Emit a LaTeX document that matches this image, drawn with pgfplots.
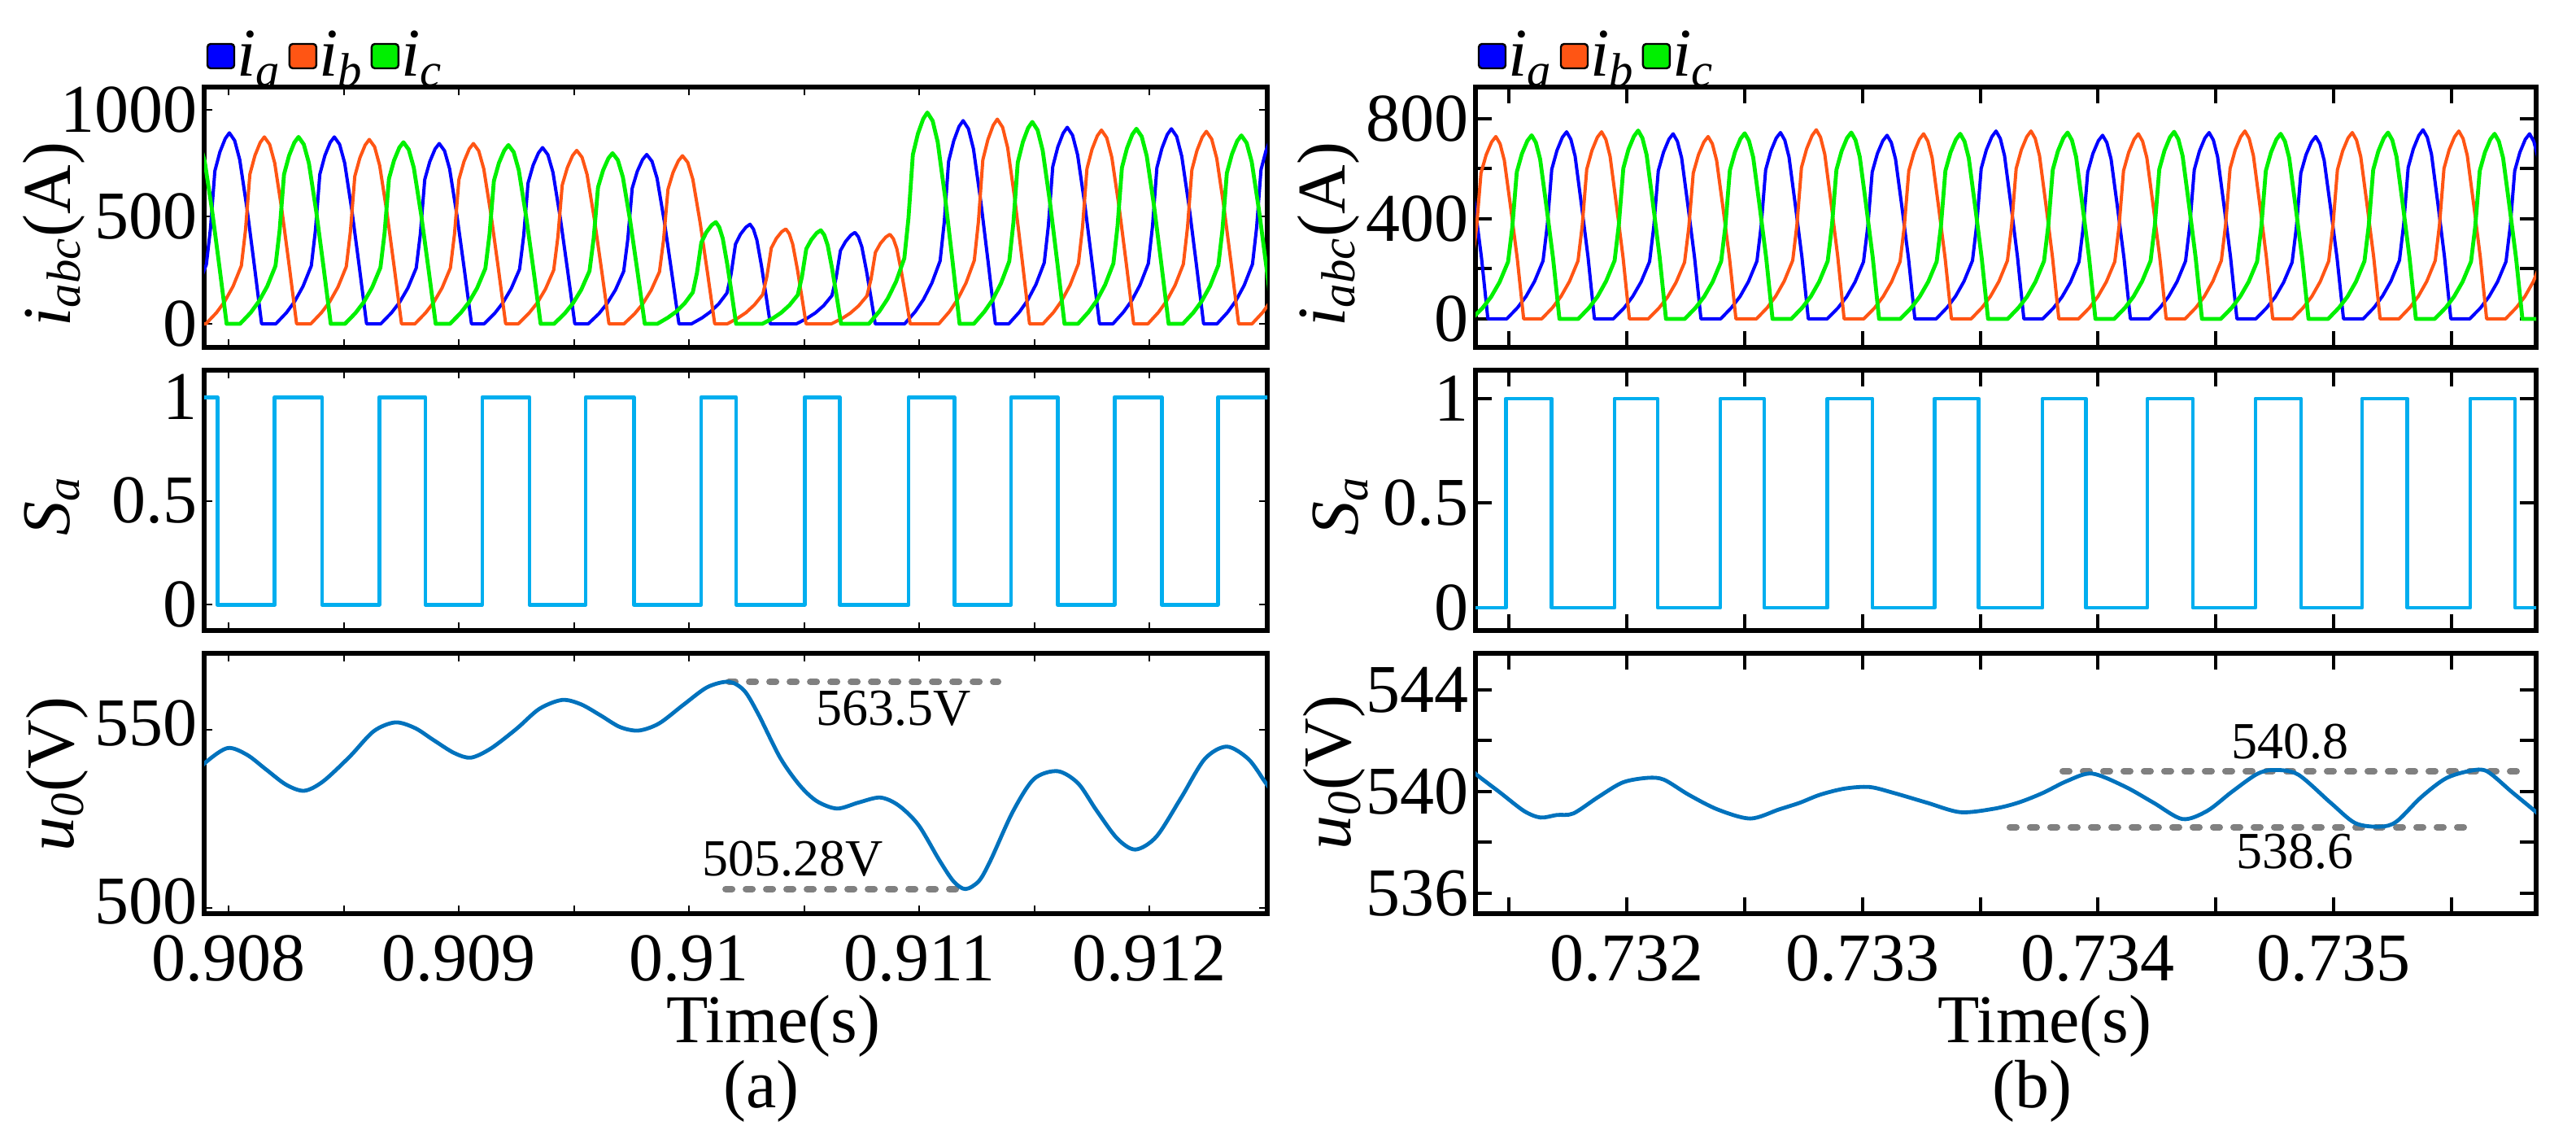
\documentclass[border=0pt]{standalone}
\usepackage{fontspec}
\setmainfont{Liberation Serif}
\usepackage{pgfplots}
\pgfplotsset{compat=1.18}
\definecolor{cA}{RGB}{0,0,255}
\definecolor{cB}{RGB}{255,85,20}
\definecolor{cC}{RGB}{0,240,0}
\definecolor{cS}{RGB}{0,174,239}
\definecolor{cU}{RGB}{0,114,189}
\definecolor{cD}{RGB}{128,128,128}
\newcommand{\fs}{\fontsize{21pt}{21pt}\selectfont}
\newcommand{\fa}{\fontsize{16pt}{16pt}\selectfont}
\newcommand{\tr}[1]{\textrm{#1}}
\pgfplotsset{
 base/.style={scale only axis, anchor=north west, axis line style={line width=1.5pt},
   tick align=inside, xtick pos=both, ytick pos=both, ticklabel style={font=\fs},
   yticklabel style={inner sep=0pt, xshift=-2pt}, xticklabel style={inner sep=0pt, yshift=-6.5pt},
   tick style={black, line width=0.5pt}, major tick length=2.5pt,
   legend image code/.code={\filldraw[#1, draw=black, line width=0.6pt, rounded corners=1pt] (0pt,-3.75pt) rectangle (8.25pt,3.75pt);},
   legend style={at={(0,1)}, anchor=south west, xshift=0.5pt, yshift=1pt, draw=none, fill=none, inner sep=0pt, font=\fs, legend columns=-1, nodes={inner sep=0.6pt}, /tikz/every even column/.append style={column sep=1.5pt}}},
 pa/.style={base, width=326.75pt, height=80pt, xmin=0.907894, xmax=0.912512,
   xtick={0.908,0.9085,0.909,0.9095,0.91,0.9105,0.911,0.9115,0.912}, xticklabels={}},
 pb/.style={base, width=326pt, height=80pt, xmin=0.731358, xmax=0.735859,
   xtick={0.7315,0.732,0.7325,0.733,0.7335,0.734,0.7345,0.735,0.7355}, xticklabels={},
   major tick length=5pt, tick style={black, line width=1pt}},
 cur/.style={line width=1pt, line join=round},
 dots/.style={cD, line width=2pt, line cap=round, dash pattern=on 2pt off 4.25pt},
}
\begin{document}
\begin{tikzpicture}
\useasboundingbox (0,0) rectangle (791.75pt,350pt);
% ---------------- (a) currents
\begin{axis}[pa, at={(62.75pt,323.25pt)}, ymin=-110, ymax=1106, ytick={0,500,1000}, yticklabels={\tr{0},\tr{500},\tr{1000}}]
\addplot[cA, cur] coordinates {
(0.9077495,0)(0.9077955,54)(0.9078315,107)(0.9078675,178)(0.9079035,277)(0.9079215,446)(0.9079405,714)(0.9079625,803)(0.9079855,865)(0.9080035,892)(0.9080265,856)(0.9080485,767)(0.9080805,535)(0.9081125,268)(0.9081435,0)
(0.9082054,0)(0.9082514,52)(0.9082874,105)(0.9083234,175)(0.9083594,271)(0.9083774,437)(0.9083964,698)(0.9084184,786)(0.9084414,847)(0.9084594,873)(0.9084824,838)(0.9085044,751)(0.9085364,524)(0.9085684,262)(0.9085994,0)
(0.9086612,0)(0.9087072,51)(0.9087432,101)(0.9087792,168)(0.9088152,261)(0.9088332,421)(0.9088522,674)(0.9088742,758)(0.9088972,817)(0.9089152,842)(0.9089382,808)(0.9089602,724)(0.9089922,505)(0.9090242,253)(0.9090552,0)
(0.9091100,0)(0.9091560,49)(0.9091920,99)(0.9092280,165)(0.9092640,255)(0.9092820,412)(0.9093010,658)(0.9093230,741)(0.9093460,798)(0.9093640,823)(0.9093870,790)(0.9094090,708)(0.9094410,494)(0.9094730,247)(0.9095040,0)
(0.9095623,0)(0.9096083,47)(0.9096443,95)(0.9096803,158)(0.9097163,245)(0.9097343,396)(0.9097533,633)(0.9097753,712)(0.9097983,767)(0.9098163,791)(0.9098393,759)(0.9098613,680)(0.9098933,475)(0.9099253,237)(0.9099563,0)
(0.9100110,0)(0.9100570,28)(0.9100930,56)(0.9101290,93)(0.9101650,144)(0.9101830,233)(0.9102020,372)(0.9102240,419)(0.9102470,451)(0.9102650,465)(0.9102800,442)(0.9102950,391)(0.9103150,270)(0.9103350,130)(0.9103530,0)
(0.9104669,0)(0.9105129,26)(0.9105489,51)(0.9105849,85)(0.9106209,132)(0.9106389,214)(0.9106579,342)(0.9106799,384)(0.9107029,414)(0.9107209,427)(0.9107359,406)(0.9107509,359)(0.9107709,248)(0.9107909,120)(0.9108089,0)
(0.9109368,0)(0.9109828,57)(0.9110188,114)(0.9110548,190)(0.9110908,294)(0.9111088,475)(0.9111278,759)(0.9111498,854)(0.9111728,921)(0.9111908,949)(0.9112138,911)(0.9112358,816)(0.9112678,569)(0.9112998,285)(0.9113308,0)
(0.9113891,0)(0.9114351,55)(0.9114711,110)(0.9115071,184)(0.9115431,285)(0.9115611,459)(0.9115801,734)(0.9116021,826)(0.9116251,890)(0.9116431,918)(0.9116661,881)(0.9116881,789)(0.9117201,551)(0.9117521,275)(0.9117831,0)
(0.9118414,0)(0.9118874,55)(0.9119234,109)(0.9119594,182)(0.9119954,282)(0.9120134,456)(0.9120324,729)(0.9120544,820)(0.9120774,884)(0.9120954,911)(0.9121184,875)(0.9121404,783)(0.9121724,547)(0.9122044,273)(0.9122354,0)
(0.9122937,0)(0.9123397,54)(0.9123757,108)(0.9124117,180)(0.9124477,279)(0.9124657,450)(0.9124847,720)(0.9125067,810)(0.9125297,873)(0.9125477,900)
};
\addplot[cB, cur] coordinates {
(0.9078400,0)
(0.9079015,0)(0.9079475,52)(0.9079835,105)(0.9080195,175)(0.9080555,271)(0.9080735,437)(0.9080925,698)(0.9081145,786)(0.9081375,847)(0.9081555,873)(0.9081785,838)(0.9082005,751)(0.9082325,524)(0.9082645,262)(0.9082955,0)
(0.9083573,0)(0.9084033,52)(0.9084393,103)(0.9084753,172)(0.9085113,267)(0.9085293,431)(0.9085483,689)(0.9085703,775)(0.9085933,835)(0.9086113,861)(0.9086343,827)(0.9086563,740)(0.9086883,517)(0.9087203,258)(0.9087513,0)
(0.9088096,0)(0.9088556,51)(0.9088916,101)(0.9089276,168)(0.9089636,261)(0.9089816,421)(0.9090006,674)(0.9090226,758)(0.9090456,817)(0.9090636,842)(0.9090866,808)(0.9091086,724)(0.9091406,505)(0.9091726,253)(0.9092036,0)
(0.9092584,0)(0.9093044,49)(0.9093404,97)(0.9093764,162)(0.9094124,251)(0.9094304,405)(0.9094494,648)(0.9094714,729)(0.9094944,786)(0.9095124,810)(0.9095354,778)(0.9095574,697)(0.9095894,486)(0.9096214,243)(0.9096524,0)
(0.9097177,0)(0.9097637,47)(0.9097997,94)(0.9098357,157)(0.9098717,243)(0.9098897,393)(0.9099087,628)(0.9099307,707)(0.9099537,761)(0.9099717,785)(0.9099947,754)(0.9100167,675)(0.9100487,471)(0.9100807,236)(0.9101117,0)
(0.9101665,0)(0.9102125,27)(0.9102485,53)(0.9102845,89)(0.9103205,137)(0.9103385,222)(0.9103575,354)(0.9103795,399)(0.9104025,430)(0.9104205,443)(0.9104355,421)(0.9104505,372)(0.9104705,257)(0.9104905,124)(0.9105085,0)
(0.9106188,0)(0.9106648,25)(0.9107008,50)(0.9107368,84)(0.9107728,130)(0.9107908,209)(0.9108098,334)(0.9108318,376)(0.9108548,405)(0.9108728,418)(0.9108878,397)(0.9109028,351)(0.9109228,242)(0.9109428,117)(0.9109608,0)
(0.9110853,0)(0.9111313,57)(0.9111673,115)(0.9112033,191)(0.9112393,296)(0.9112573,478)(0.9112763,765)(0.9112983,860)(0.9113213,927)(0.9113393,956)(0.9113623,918)(0.9113843,822)(0.9114163,574)(0.9114483,287)(0.9114793,0)
(0.9115376,0)(0.9115836,54)(0.9116196,109)(0.9116556,181)(0.9116916,281)(0.9117096,453)(0.9117286,724)(0.9117506,815)(0.9117736,878)(0.9117916,905)(0.9118146,869)(0.9118366,778)(0.9118686,543)(0.9119006,272)(0.9119316,0)
(0.9119934,0)(0.9120394,54)(0.9120754,108)(0.9121114,180)(0.9121474,279)(0.9121654,450)(0.9121844,719)(0.9122064,809)(0.9122294,872)(0.9122474,899)(0.9122704,863)(0.9122924,773)(0.9123244,539)(0.9123564,270)(0.9123874,0)
(0.9124457,0)(0.9124917,53)(0.9125277,107)(0.9125637,178)
};
\addplot[cC, cur, line width=1.2pt] coordinates {
(0.9078106,792)(0.9078336,854)(0.9078516,880)(0.9078746,845)(0.9078966,757)(0.9079286,528)(0.9079606,264)(0.9079916,0)
(0.9080499,0)(0.9080959,52)(0.9081319,105)(0.9081679,175)(0.9082039,271)(0.9082219,437)(0.9082409,698)(0.9082629,786)(0.9082859,847)(0.9083039,873)(0.9083269,838)(0.9083489,751)(0.9083809,524)(0.9084129,262)(0.9084439,0)
(0.9085057,0)(0.9085517,51)(0.9085877,102)(0.9086237,170)(0.9086597,263)(0.9086777,424)(0.9086967,678)(0.9087187,763)(0.9087417,823)(0.9087597,848)(0.9087827,814)(0.9088047,729)(0.9088367,509)(0.9088687,254)(0.9088997,0)
(0.9089616,0)(0.9090076,50)(0.9090436,100)(0.9090796,167)(0.9091156,259)(0.9091336,418)(0.9091526,668)(0.9091746,752)(0.9091976,810)(0.9092156,835)(0.9092386,802)(0.9092606,718)(0.9092926,501)(0.9093246,251)(0.9093556,0)
(0.9094139,0)(0.9094599,48)(0.9094959,96)(0.9095319,159)(0.9095679,247)(0.9095859,399)(0.9096049,638)(0.9096269,717)(0.9096499,773)(0.9096679,797)(0.9096909,765)(0.9097129,685)(0.9097449,478)(0.9097769,239)(0.9098079,0)
(0.9098626,0)(0.9099086,29)(0.9099446,57)(0.9099806,95)(0.9100166,147)(0.9100346,238)(0.9100536,380)(0.9100756,428)(0.9100986,461)(0.9101166,475)(0.9101316,451)(0.9101466,399)(0.9101666,276)(0.9101866,133)(0.9102046,0)
(0.9103185,0)(0.9103645,26)(0.9104005,52)(0.9104365,87)(0.9104725,135)(0.9104905,219)(0.9105095,350)(0.9105315,393)(0.9105545,424)(0.9105725,437)(0.9105875,415)(0.9106025,367)(0.9106225,253)(0.9106425,122)(0.9106605,0)
(0.9107814,0)(0.9108274,59)(0.9108634,118)(0.9108994,197)(0.9109354,306)(0.9109534,494)(0.9109724,790)(0.9109944,888)(0.9110174,957)(0.9110354,987)(0.9110584,948)(0.9110804,849)(0.9111124,592)(0.9111444,296)(0.9111754,0)
(0.9112372,0)(0.9112832,57)(0.9113192,113)(0.9113552,189)(0.9113912,292)(0.9114092,472)(0.9114282,754)(0.9114502,849)(0.9114732,915)(0.9114912,943)(0.9115142,905)(0.9115362,811)(0.9115682,566)(0.9116002,283)(0.9116312,0)
(0.9116895,0)(0.9117355,55)(0.9117715,109)(0.9118075,182)(0.9118435,282)(0.9118615,456)(0.9118805,729)(0.9119025,820)(0.9119255,884)(0.9119435,911)(0.9119665,875)(0.9119885,783)(0.9120205,547)(0.9120525,273)(0.9120835,0)
(0.9121453,0)(0.9121913,53)(0.9122273,106)(0.9122633,176)(0.9122993,273)(0.9123173,440)(0.9123363,704)(0.9123583,792)(0.9123813,854)(0.9123993,880)(0.9124223,845)(0.9124443,757)(0.9124763,528)(0.9125083,264)(0.9125393,0)
};
\legend{\textit{i}\textsubscript{\textit{a}},\textit{i}\textsubscript{\textit{b}},\textit{i}\textsubscript{\textit{c}}}
\end{axis}
% ---------------- (a) Sa
\begin{axis}[pa, at={(62.75pt,236.25pt)}, ymin=-0.125, ymax=1.13, ytick={0,0.5,1}, yticklabels={\tr{0},\tr{0.5},\tr{1}}]
\addplot[cS, line width=1.2pt, line join=round] coordinates {
(0.907850,1)(0.907951,1)(0.907951,0)(0.908201,0)(0.908201,1)(0.908406,1)(0.908406,0)(0.908654,0)(0.908654,1)(0.908855,1)(0.908855,0)(0.909102,0)(0.909102,1)(0.909307,1)(0.909307,0)(0.909551,0)(0.909551,1)(0.909760,1)(0.909760,0)(0.910053,0)(0.910053,1)(0.910205,1)(0.910205,0)(0.910502,0)(0.910502,1)(0.910654,1)(0.910654,0)(0.910954,0)(0.910954,1)(0.911152,1)(0.911152,0)(0.911399,0)(0.911399,1)(0.911601,1)(0.911601,0)(0.911848,0)(0.911848,1)(0.912053,1)(0.912053,0)(0.912297,0)(0.912297,1)(0.912600,1)
};
\end{axis}
% ---------------- (a) u0
\begin{axis}[pa, at={(62.75pt,149.25pt)}, ymin=498.4, ymax=571.5, ytick={500,550}, yticklabels={\tr{500},\tr{550}},
  yticklabel style={yshift=2pt},
  xticklabels={\tr{0.908},,\tr{0.909},,\tr{0.91},,\tr{0.911},,\tr{0.912}}]
\addplot[dots] coordinates {(0.9101732,563.5)(0.9113428,563.5)};
\addplot[dots] coordinates {(0.9101590,505.28)(0.9111838,505.28)};
\addplot[cU, line width=1.2pt, smooth] coordinates {
(0.9078300,536.0)(0.9079046,541.1)(0.9079965,544.9)(0.9080800,543.0)(0.9081625,538.9)(0.9082500,534.6)(0.9083286,532.9)(0.9084100,535.5)(0.9085265,542.5)(0.9086300,549.6)(0.9087244,552.1)(0.9088100,550.5)(0.9088887,547.2)(0.9089800,543.5)(0.9090530,542.2)(0.9091400,544.8)(0.9092509,550.3)(0.9093500,555.9)(0.9094488,558.4)(0.9095300,557.2)(0.9096149,554.1)(0.9097000,550.8)(0.9097809,549.8)(0.9098700,551.8)(0.9099770,557.1)(0.9100800,562.0)(0.9101732,563.5)(0.9102400,561.0)(0.9103004,554.5)(0.9103958,542.2)(0.9104800,534.5)(0.9105548,530.0)(0.9106431,527.9)(0.9107368,529.6)(0.9108304,531.0)(0.9109100,528.8)(0.9109965,523.3)(0.9110884,513.3)(0.9111500,507.4)(0.9112014,505.3)(0.9112600,507.6)(0.9113110,513.5)(0.9114064,527.0)(0.9114983,536.2)(0.9116008,538.4)(0.9116900,535.0)(0.9117699,527.4)(0.9118600,519.5)(0.9119390,516.4)(0.9120300,520.0)(0.9121374,530.9)(0.9122400,541.8)(0.9123357,545.3)(0.9124300,541.8)(0.9125018,535.4)(0.9125500,531.0)
};
\node[font=\fa] at (axis cs:0.910887,555.9) {563.5V};
\node[font=\fa] at (axis cs:0.910452,513.7) {505.28V};
\end{axis}
% ---------------- (b) currents
\begin{axis}[pb, at={(453.5pt,323.25pt)}, ymin=-114, ymax=927, ytick={0,200,400,600,800}, yticklabels={\tr{0},,\tr{400},,\tr{800}}]
\addplot[cA, cur] coordinates {
(0.7312745,718)(0.7312925,740)(0.7313105,710)(0.7313285,644)(0.7313555,451)(0.7313835,244)(0.7314105,0)
(0.7314906,0)(0.7315366,45)(0.7315726,90)(0.7316086,150)(0.7316446,232)(0.7316626,374)(0.7316816,598)(0.7317036,673)(0.7317266,726)(0.7317446,748)(0.7317626,718)(0.7317806,651)(0.7318076,456)(0.7318356,247)(0.7318626,0)
(0.7319427,0)(0.7319887,44)(0.7320247,89)(0.7320607,148)(0.7320967,229)(0.7321147,370)(0.7321337,592)(0.7321557,666)(0.7321787,718)(0.7321967,740)(0.7322147,710)(0.7322327,644)(0.7322597,451)(0.7322877,244)(0.7323147,0)
(0.7323983,0)(0.7324443,45)(0.7324803,89)(0.7325163,149)(0.7325523,231)(0.7325703,373)(0.7325893,596)(0.7326113,671)(0.7326343,723)(0.7326523,745)(0.7326703,715)(0.7326883,648)(0.7327153,454)(0.7327433,246)(0.7327703,0)
(0.7328504,0)(0.7328964,44)(0.7329324,88)(0.7329684,147)(0.7330044,228)(0.7330224,367)(0.7330414,587)(0.7330634,661)(0.7330864,712)(0.7331044,734)(0.7331224,705)(0.7331404,639)(0.7331674,448)(0.7331954,242)(0.7332224,0)
(0.7333129,0)(0.7333589,45)(0.7333949,90)(0.7334309,150)(0.7334669,233)(0.7334849,376)(0.7335039,601)(0.7335259,676)(0.7335489,728)(0.7335669,751)(0.7335849,721)(0.7336029,653)(0.7336299,458)(0.7336579,248)(0.7336849,0)
(0.7337650,0)(0.7338110,44)(0.7338470,88)(0.7338830,147)(0.7339190,228)(0.7339370,367)(0.7339560,587)(0.7339780,661)(0.7340010,712)(0.7340190,734)(0.7340370,705)(0.7340550,639)(0.7340820,448)(0.7341100,242)(0.7341370,0)
(0.7342171,0)(0.7342631,45)(0.7342991,89)(0.7343351,149)(0.7343711,231)(0.7343891,373)(0.7344081,596)(0.7344301,671)(0.7344531,723)(0.7344711,745)(0.7344891,715)(0.7345071,648)(0.7345341,454)(0.7345621,246)(0.7345891,0)
(0.7346693,0)(0.7347153,44)(0.7347513,87)(0.7347873,146)(0.7348233,226)(0.7348413,365)(0.7348603,583)(0.7348823,656)(0.7349053,707)(0.7349233,729)(0.7349413,700)(0.7349593,634)(0.7349863,445)(0.7350143,241)(0.7350413,0)
(0.7351248,0)(0.7351708,45)(0.7352068,91)(0.7352428,151)(0.7352788,234)(0.7352968,378)(0.7353158,605)(0.7353378,680)(0.7353608,733)(0.7353788,756)(0.7353968,726)(0.7354148,658)(0.7354418,461)(0.7354698,249)(0.7354968,0)
(0.7355769,0)(0.7356229,44)(0.7356589,89)(0.7356949,148)(0.7357309,229)(0.7357489,370)(0.7357679,592)(0.7357899,666)(0.7358129,718)(0.7358309,740)(0.7358489,710)(0.7358669,644)
};
\addplot[cB, cur] coordinates {
(0.7311903,0)(0.7312363,44)(0.7312723,87)(0.7313083,146)(0.7313443,226)(0.7313623,365)(0.7313813,583)(0.7314033,656)(0.7314263,707)(0.7314443,729)(0.7314623,700)(0.7314803,634)(0.7315073,445)(0.7315353,241)(0.7315623,0)
(0.7316390,0)(0.7316850,45)(0.7317210,90)(0.7317570,150)(0.7317930,232)(0.7318110,374)(0.7318300,598)(0.7318520,673)(0.7318750,726)(0.7318930,748)(0.7319110,718)(0.7319290,651)(0.7319560,456)(0.7319840,247)(0.7320110,0)
(0.7320911,0)(0.7321371,44)(0.7321731,87)(0.7322091,146)(0.7322451,226)(0.7322631,365)(0.7322821,583)(0.7323041,656)(0.7323271,707)(0.7323451,729)(0.7323631,700)(0.7323811,634)(0.7324081,445)(0.7324361,241)(0.7324631,0)
(0.7325502,0)(0.7325962,45)(0.7326322,91)(0.7326682,151)(0.7327042,234)(0.7327222,378)(0.7327412,605)(0.7327632,680)(0.7327862,733)(0.7328042,756)(0.7328222,726)(0.7328402,658)(0.7328672,461)(0.7328952,249)(0.7329222,0)
(0.7330057,0)(0.7330517,44)(0.7330877,89)(0.7331237,148)(0.7331597,229)(0.7331777,370)(0.7331967,592)(0.7332187,666)(0.7332417,718)(0.7332597,740)(0.7332777,710)(0.7332957,644)(0.7333227,451)(0.7333507,244)(0.7333777,0)
(0.7334613,0)(0.7335073,45)(0.7335433,90)(0.7335793,150)(0.7336153,233)(0.7336333,376)(0.7336523,601)(0.7336743,676)(0.7336973,728)(0.7337153,751)(0.7337333,721)(0.7337513,653)(0.7337783,458)(0.7338063,248)(0.7338333,0)
(0.7339169,0)(0.7339629,44)(0.7339989,89)(0.7340349,148)(0.7340709,229)(0.7340889,370)(0.7341079,592)(0.7341299,666)(0.7341529,718)(0.7341709,740)(0.7341889,710)(0.7342069,644)(0.7342339,451)(0.7342619,244)(0.7342889,0)
(0.7343690,0)(0.7344150,45)(0.7344510,90)(0.7344870,150)(0.7345230,233)(0.7345410,376)(0.7345600,601)(0.7345820,676)(0.7346050,728)(0.7346230,751)(0.7346410,721)(0.7346590,653)(0.7346860,458)(0.7347140,248)(0.7347410,0)
(0.7348246,0)(0.7348706,45)(0.7349066,89)(0.7349426,149)(0.7349786,231)(0.7349966,373)(0.7350156,596)(0.7350376,671)(0.7350606,723)(0.7350786,745)(0.7350966,715)(0.7351146,648)(0.7351416,454)(0.7351696,246)(0.7351966,0)
(0.7352767,0)(0.7353227,45)(0.7353587,90)(0.7353947,150)(0.7354307,233)(0.7354487,376)(0.7354677,601)(0.7354897,676)(0.7355127,728)(0.7355307,751)(0.7355487,721)(0.7355667,653)(0.7355937,458)(0.7356217,248)(0.7356487,0)
(0.7357288,0)(0.7357748,45)(0.7358108,89)(0.7358468,149)(0.7358828,231)
};
\addplot[cC, cur, line width=1.2pt] coordinates {
(0.7313000,0)
(0.7313422,0)(0.7313882,44)(0.7314242,88)(0.7314602,147)(0.7314962,228)(0.7315142,367)(0.7315332,587)(0.7315552,661)(0.7315782,712)(0.7315962,734)(0.7316142,705)(0.7316322,639)(0.7316592,448)(0.7316872,242)(0.7317142,0)
(0.7317943,0)(0.7318403,45)(0.7318763,90)(0.7319123,151)(0.7319483,233)(0.7319663,377)(0.7319853,602)(0.7320073,678)(0.7320303,730)(0.7320483,753)(0.7320663,723)(0.7320843,655)(0.7321113,459)(0.7321393,248)(0.7321663,0)
(0.7322464,0)(0.7322924,45)(0.7323284,89)(0.7323644,148)(0.7324004,230)(0.7324184,371)(0.7324374,594)(0.7324594,668)(0.7324824,720)(0.7325004,742)(0.7325184,712)(0.7325364,646)(0.7325634,453)(0.7325914,245)(0.7326184,0)
(0.7326986,0)(0.7327446,45)(0.7327806,89)(0.7328166,149)(0.7328526,231)(0.7328706,373)(0.7328896,596)(0.7329116,671)(0.7329346,723)(0.7329526,745)(0.7329706,715)(0.7329886,648)(0.7330156,454)(0.7330436,246)(0.7330706,0)
(0.7331610,0)(0.7332070,44)(0.7332430,89)(0.7332790,148)(0.7333150,229)(0.7333330,370)(0.7333520,592)(0.7333740,666)(0.7333970,718)(0.7334150,740)(0.7334330,710)(0.7334510,644)(0.7334780,451)(0.7335060,244)(0.7335330,0)
(0.7336166,0)(0.7336626,45)(0.7336986,89)(0.7337346,149)(0.7337706,231)(0.7337886,373)(0.7338076,596)(0.7338296,671)(0.7338526,723)(0.7338706,745)(0.7338886,715)(0.7339066,648)(0.7339336,454)(0.7339616,246)(0.7339886,0)
(0.7340687,0)(0.7341147,45)(0.7341507,90)(0.7341867,150)(0.7342227,232)(0.7342407,374)(0.7342597,598)(0.7342817,673)(0.7343047,726)(0.7343227,748)(0.7343407,718)(0.7343587,651)(0.7343857,456)(0.7344137,247)(0.7344407,0)
(0.7345208,0)(0.7345668,44)(0.7346028,89)(0.7346388,148)(0.7346748,229)(0.7346928,370)(0.7347118,592)(0.7347338,666)(0.7347568,718)(0.7347748,740)(0.7347928,710)(0.7348108,644)(0.7348378,451)(0.7348658,244)(0.7348928,0)
(0.7349764,0)(0.7350224,45)(0.7350584,89)(0.7350944,149)(0.7351304,231)(0.7351484,373)(0.7351674,596)(0.7351894,671)(0.7352124,723)(0.7352304,745)(0.7352484,715)(0.7352664,648)(0.7352934,454)(0.7353214,246)(0.7353484,0)
(0.7354285,0)(0.7354745,44)(0.7355105,89)(0.7355465,148)(0.7355825,229)(0.7356005,370)(0.7356195,592)(0.7356415,666)(0.7356645,718)(0.7356825,740)(0.7357005,710)(0.7357185,644)(0.7357455,451)(0.7357735,244)(0.7358005,0)(0.7359000,0)
};
\legend{\textit{i}\textsubscript{\textit{a}},\textit{i}\textsubscript{\textit{b}},\textit{i}\textsubscript{\textit{c}}}
\end{axis}
% ---------------- (b) Sa
\begin{axis}[pb, at={(453.5pt,236.25pt)}, ymin=-0.109, ymax=1.136, ytick={0,0.5,1}, yticklabels={\tr{0},\tr{0.5},\tr{1}}]
\addplot[cS, line width=1.2pt, line join=round] coordinates {
(0.731300,0)(0.731486,0)(0.731486,1)(0.731682,1)(0.731682,0)(0.731948,0)(0.731948,1)(0.732131,1)(0.732131,0)(0.732397,0)(0.732397,1)(0.732583,1)(0.732583,0)(0.732852,0)(0.732852,1)(0.733042,1)(0.733042,0)(0.733305,0)(0.733305,1)(0.733494,1)(0.733494,0)(0.733764,0)(0.733764,1)(0.733947,1)(0.733947,0)(0.734209,0)(0.734209,1)(0.734402,1)(0.734402,0)(0.734668,0)(0.734668,1)(0.734861,1)(0.734861,0)(0.735120,0)(0.735120,1)(0.735313,1)(0.735313,0)(0.735579,0)(0.735579,1)(0.735769,1)(0.735769,0)(0.735950,0)
};
\end{axis}
% ---------------- (b) u0
\begin{axis}[pb, at={(453.5pt,149.25pt)}, ymin=535.2, ymax=545.44, ytick={536,538,540,542,544}, yticklabels={\tr{536},,\tr{540},,\tr{544}},
  xticklabels={,\tr{0.732},,\tr{0.733},,\tr{0.734},,\tr{0.735},}]
\addplot[dots] coordinates {(0.7338499,540.8)(0.7357895,540.8)};
\addplot[dots] coordinates {(0.7336256,538.6)(0.7355790,538.6)};
\addplot[cU, line width=1.2pt, smooth] coordinates {
(0.7313400,540.9)(0.7313608,540.68)(0.7314585,539.99)(0.7315634,539.24)(0.7316335,538.98)(0.7317032,539.08)(0.7317729,539.14)(0.7318778,539.78)(0.7319827,540.36)(0.7320873,540.54)(0.7321574,540.47)(0.7322620,539.88)(0.7323845,539.30)(0.7325239,538.94)(0.7326464,539.30)(0.7327338,539.56)(0.7328211,539.88)(0.7329256,540.12)(0.7330306,540.18)(0.7331355,539.94)(0.7332749,539.56)(0.7334147,539.19)(0.7335545,539.32)(0.7336594,539.56)(0.7337640,539.94)(0.7338689,540.42)(0.7339738,540.71)(0.7341132,540.20)(0.7342357,539.56)(0.7343579,538.92)(0.7344628,539.24)(0.7345674,539.99)(0.7346723,540.68)(0.7347421,540.85)(0.7348470,540.68)(0.7349868,539.56)(0.7350913,538.76)(0.7351963,538.62)(0.7352660,538.82)(0.7353709,539.78)(0.7354758,540.52)(0.7355804,540.82)(0.7356501,540.80)(0.7357550,539.99)(0.7358530,539.24)(0.7358800,539.00)
};
\node[font=\fa] at (axis cs:0.734813,541.95) {540.8};
\node[font=\fa] at (axis cs:0.734837,537.63) {538.6};
\end{axis}
% ---------------- labels
\node[rotate=90, font=\fs] at (16.5pt,278pt) {\textit{i}\textsubscript{\textit{abc}}(A)};
\node[rotate=90, font=\fs] at (16pt,194.5pt) {\textit{S}\textsubscript{\textit{a}}};
\node[rotate=90, font=\fs] at (17.5pt,112pt) {\textit{u}\textsubscript{\textit{0}}(V)};
\node[rotate=90, font=\fs] at (408.25pt,278pt) {\textit{i}\textsubscript{\textit{abc}}(A)};
\node[rotate=90, font=\fs] at (412pt,194.5pt) {\textit{S}\textsubscript{\textit{a}}};
\node[rotate=90, font=\fs] at (410pt,112.5pt) {\textit{u}\textsubscript{\textit{0}}(V)};
\node[font=\fs] at (237.75pt,34.75pt) {Time(s)};
\node[font=\fs] at (234pt,14.75pt) {(a)};
\node[font=\fs] at (628.5pt,34.75pt) {Time(s)};
\node[font=\fs] at (624.5pt,14.75pt) {(b)};
\end{tikzpicture}
\end{document}
